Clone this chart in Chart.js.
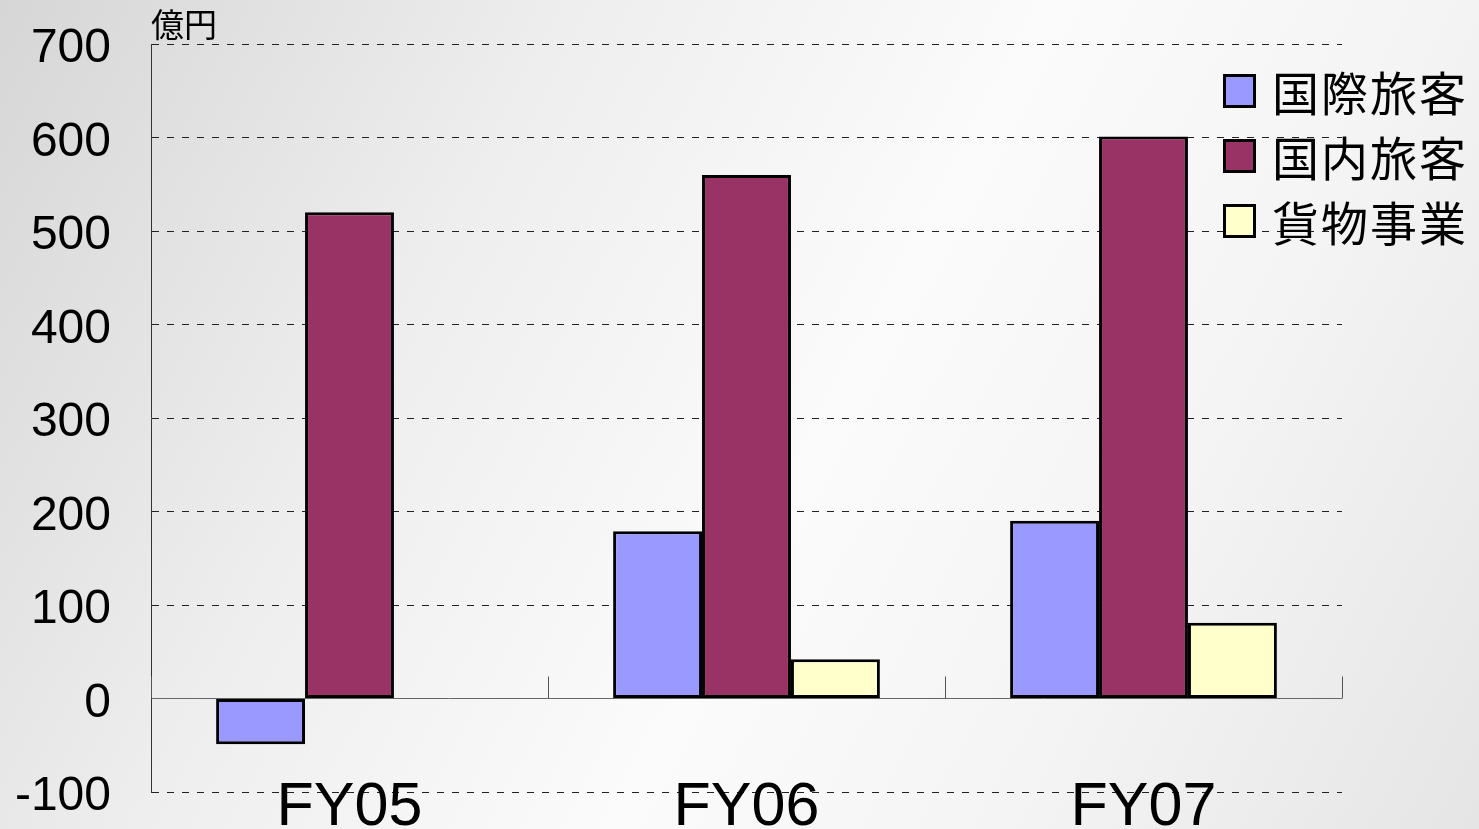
<!DOCTYPE html>
<html>
<head>
<meta charset="utf-8">
<script src="https://cdn.jsdelivr.net/npm/chart.js@4/dist/chart.umd.min.js"></script>
<style>
  html, body { margin:0; padding:0; }
  body {
    width:1479px; height:829px; overflow:hidden; position:relative;
    background: linear-gradient(118deg, #d6d6d6 0%, #eeeeee 30%, #fbfbfb 55%, #f4f4f4 75%, #e5e5e5 100%);
    font-family: "Liberation Sans", Arial, sans-serif;
  }
  #c { position:absolute; left:0; top:0; }
  #unit { position:absolute; left:151px; top:3px; font: 33px "Noto Sans CJK JP", sans-serif; color:#000; line-height:40px; }
  #legend { position:absolute; left:1223px; top:58px; }
  .item { display:flex; align-items:center; height:65px; }
  .box { width:33px; height:34px; border:3px solid #000; box-sizing:border-box; margin-right:16px; }
  .lab { font: 47px "Noto Sans CJK JP", sans-serif; color:#000; letter-spacing:2px; line-height:54px; }
</style>
</head>
<body>
<canvas id="c" width="1479" height="829"></canvas>
<div id="unit">億円</div>
<div id="legend"></div>
<script>
const categories = ['FY05', 'FY06', 'FY07'];
const seriesNames = ['国際旅客', '国内旅客', '貨物事業'];
const intlValues = [-49, 179, 190];
const domesticValues = [520, 560, 601];
const cargoValues = [null, 42, 81];
const seriesColors = ['#9999FF', '#993366', '#FFFFCC'];
const yTicks = [-100, 0, 100, 200, 300, 400, 500, 600, 700];

// HTML legend
const legendEl = document.getElementById('legend');
seriesNames.forEach((n, i) => {
  const it = document.createElement('div'); it.className = 'item';
  const b = document.createElement('div'); b.className = 'box'; b.style.background = seriesColors[i];
  const t = document.createElement('div'); t.className = 'lab'; t.textContent = n;
  it.appendChild(b); it.appendChild(t); legendEl.appendChild(it);
});

const FONT = '"Liberation Sans", Arial, sans-serif';

const axisDecor = {
  id: 'axisDecor',
  beforeDatasetsDraw(chart) {
    const x = chart.scales.x, y = chart.scales.y, ctx = chart.ctx;
    const y0 = y.getPixelForValue(0);
    ctx.save();
    ctx.strokeStyle = '#555';
    ctx.lineWidth = 1;
    const n = categories.length;
    for (let i = 0; i <= n; i++) {
      let px;
      if (i === 0) px = x.left; else if (i === n) px = x.right;
      else px = (x.getPixelForTick(i - 1) + x.getPixelForTick(i)) / 2;
      px = Math.round(px) + 0.5;
      ctx.beginPath(); ctx.moveTo(px, y0 - 22); ctx.lineTo(px, y0); ctx.stroke();
    }
    ctx.restore();
  },
  afterDraw(chart) {
    const x = chart.scales.x, y = chart.scales.y, ctx = chart.ctx;
    ctx.save();
    ctx.fillStyle = '#000';
    ctx.font = '48px ' + FONT;
    ctx.textAlign = 'right';
    ctx.textBaseline = 'middle';
    yTicks.forEach(v => {
      ctx.fillText(String(v), 111, y.getPixelForValue(v) + 5);
    });
    ctx.font = '61px ' + FONT;
    ctx.textAlign = 'center';
    ctx.textBaseline = 'alphabetic';
    categories.forEach((c, i) => {
      ctx.fillText(c, x.getPixelForTick(i), 825);
    });
    ctx.restore();
  }
};

new Chart(document.getElementById('c'), {
  type: 'bar',
  data: {
    labels: categories,
    datasets: [
      { label: seriesNames[0], data: intlValues, backgroundColor: seriesColors[0] },
      { label: seriesNames[1], data: domesticValues, backgroundColor: seriesColors[1] },
      { label: seriesNames[2], data: cargoValues, backgroundColor: seriesColors[2] }
    ]
  },
  options: {
    responsive: false,
    animation: false,
    devicePixelRatio: 1,
    layout: { padding: { top: 44, right: 137, left: 0, bottom: 0 } },
    datasets: { bar: { borderColor: '#000', borderWidth: 3, borderSkipped: false, categoryPercentage: 0.672, barPercentage: 1.0 } },
    plugins: { legend: { display: false }, tooltip: { enabled: false }, title: { display: false } },
    scales: {
      x: {
        grid: { display: false, drawTicks: false },
        border: { display: false },
        ticks: { display: false },
        afterFit(s) { s.height = 37; }
      },
      y: {
        min: -100, max: 700,
        afterBuildTicks(s) { s.ticks = yTicks.map(v => ({ value: v })); },
        ticks: { display: false },
        grid: {
          drawTicks: false,
          color: ctx => (ctx.tick && ctx.tick.value === 0) ? '#666' : '#222',
          lineWidth: 1
        },
        border: {
          display: true, color: '#333', width: 1,
          dash: ctx => (ctx.tick && ctx.tick.value === 0) ? [] : [7, 8]
        },
        afterFit(s) { s.width = 151; }
      }
    }
  },
  plugins: [axisDecor]
});
</script>
</body>
</html>
